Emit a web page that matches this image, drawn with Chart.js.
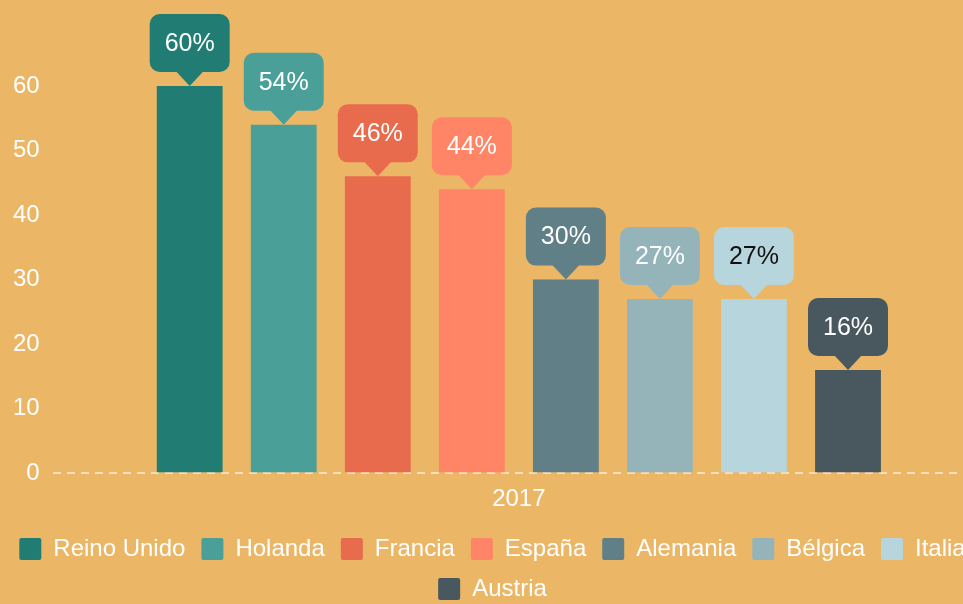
<!DOCTYPE html>
<html>
<head>
<meta charset="utf-8">
<script src="https://cdn.jsdelivr.net/npm/chart.js@4.4.1/dist/chart.umd.min.js"></script>
<style>
  html, body { margin: 0; padding: 0; overflow: hidden; background: #EBB766; }
  #chart { display: block; background: #EBB766; }
</style>
</head>
<body>
<canvas id="chart" width="985" height="611"></canvas>
<script>
const years = ['2017'];
const countries = ['Reino Unido', 'Holanda', 'Francia', 'España', 'Alemania', 'Bélgica', 'Italia', 'Austria'];
const shares = [60, 54, 46, 44, 30, 27, 27, 16];
const colors = ['#217D74', '#4A9F98', '#E86B4E', '#FF8566', '#607F86', '#95B4BA', '#B7D5DC', '#48585E'];
const labelColors = ['#fff', '#fff', '#fff', '#fff', '#fff', '#fff', '#111', '#fff'];
const yTicks = [0, 10, 20, 30, 40, 50, 60];

Chart.defaults.font.family = "'Liberation Sans', Arial, sans-serif";
Chart.defaults.color = '#fff';

// callout boxes above each bar
const callouts = {
    id: 'callouts',
    afterDatasetsDraw(chart) {
        const ctx = chart.ctx;
        chart.data.datasets.forEach((ds, i) => {
            const bar = chart.getDatasetMeta(i).data[0];
            if (!bar) return;
            const w = 80, h = 58, tip = 14, half = 14, r = 10;
            const x = bar.x, yb = bar.y - tip, yt = yb - h;
            ctx.save();
            ctx.fillStyle = colors[i];
            ctx.beginPath();
            ctx.roundRect(x - w / 2, yt, w, h, r);
            ctx.fill();
            ctx.beginPath();
            ctx.moveTo(x - half, yb - 1);
            ctx.lineTo(x + half, yb - 1);
            ctx.lineTo(x, bar.y);
            ctx.closePath();
            ctx.fill();
            ctx.fillStyle = labelColors[i];
            ctx.font = "25px 'Liberation Sans', Arial, sans-serif";
            ctx.textAlign = 'center';
            ctx.textBaseline = 'middle';
            ctx.fillText(ds.data[0] + '%', x, yt + h / 2 + 1);
            ctx.restore();
        });
    }
};

new Chart(document.getElementById('chart'), {
    type: 'bar',
    data: {
        labels: years,
        datasets: countries.map((c, i) => ({
            label: c,
            data: [shares[i]],
            backgroundColor: colors[i],
            categoryPercentage: 0.807,
            barPercentage: 0.70
        }))
    },
    options: {
        responsive: false,
        animation: false,
        layout: { padding: { top: 86, left: 0, right: 0, bottom: 0 } },
        plugins: {
            tooltip: { enabled: false },
            legend: {
                position: 'bottom',
                labels: {
                    color: '#fff',
                    font: { size: 24 },
                    boxWidth: 22,
                    boxHeight: 22,
                    padding: 16,
                    useBorderRadius: true,
                    borderRadius: 2
                }
            }
        },
        scales: {
            x: {
                grid: { display: false },
                border: { display: false },
                ticks: { color: '#fff', font: { size: 24 }, padding: 4 },
                afterFit: axis => { axis.height += 3; }
            },
            y: {
                min: 0,
                max: 60,
                z: 1,
                afterBuildTicks: axis => { axis.ticks = yTicks.map(v => ({ value: v })); },
                grid: {
                    drawTicks: false,
                    lineWidth: 2,
                    color: ctx => ctx.tick && ctx.tick.value === 0 ? 'rgba(255,255,255,0.55)' : 'rgba(0,0,0,0)'
                },
                border: { display: false, dash: [8, 6] },
                ticks: { color: '#fff', font: { size: 24 }, padding: 13 }
            }
        }
    },
    plugins: [callouts]
});
</script>
</body>
</html>
